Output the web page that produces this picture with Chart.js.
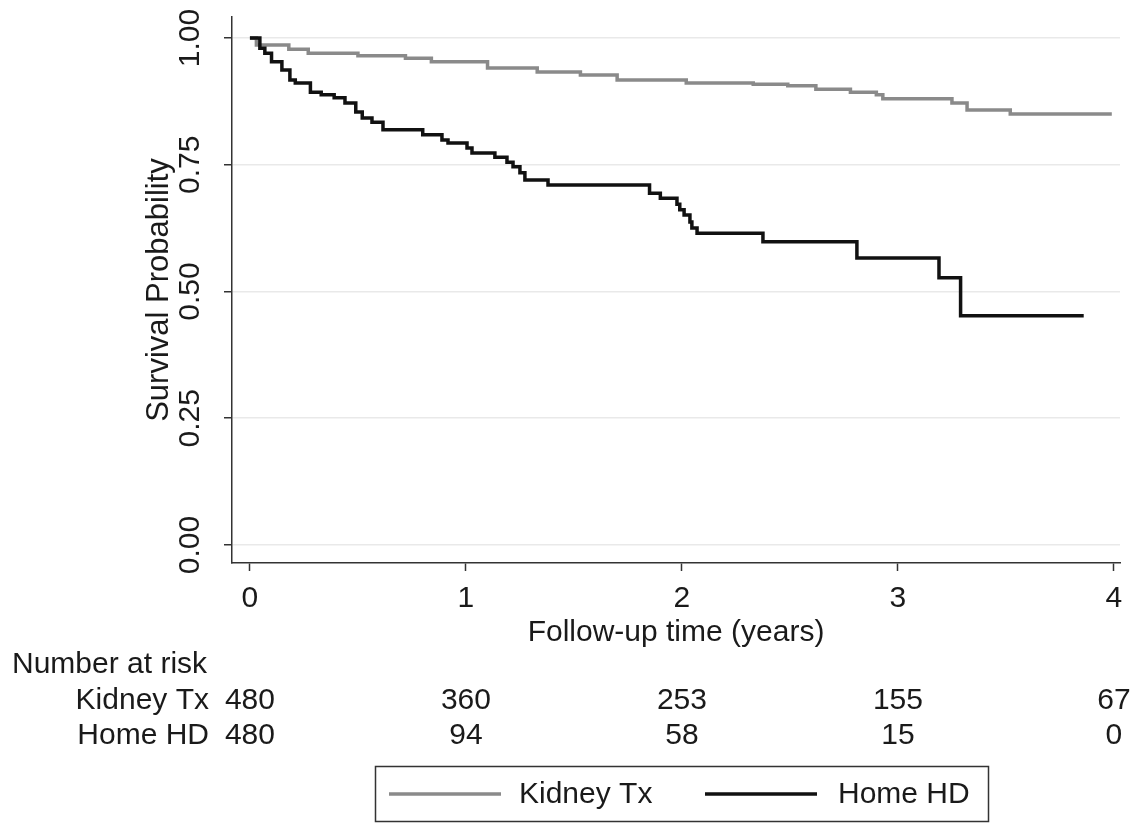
<!DOCTYPE html>
<html>
<head>
<meta charset="utf-8">
<script src="https://cdn.jsdelivr.net/npm/chart.js@4"></script>
<style>
  html, body { margin: 0; padding: 0; background: #fff; }
  #wrap { width: 1142px; height: 823px; }
</style>
</head>
<body>
<div id="wrap"><canvas id="km" width="1142" height="823"></canvas></div>
<script>
// Kaplan-Meier steps (time in years, survival)
const kidneyTime = [0, 0.03, 0.18, 0.27, 0.5, 0.72, 0.84, 1.10, 1.33, 1.53, 1.70, 2.02, 2.33, 2.49, 2.62, 2.78, 2.90, 2.93, 3.25, 3.32, 3.52, 3.99];
const kidneySurv = [1.0, 0.986, 0.978, 0.970, 0.965, 0.960, 0.953, 0.941, 0.933, 0.927, 0.917, 0.911, 0.909, 0.906, 0.899, 0.893, 0.888, 0.880, 0.872, 0.858, 0.850, 0.850];

const homeTime = [0, 0.046, 0.069, 0.10, 0.148, 0.185, 0.21, 0.28, 0.33, 0.39, 0.44, 0.49, 0.52, 0.565, 0.616, 0.80, 0.889, 0.917, 1.005, 1.028, 1.134, 1.19, 1.218, 1.25, 1.273, 1.38, 1.85, 1.90, 1.977, 1.99, 2.01, 2.037, 2.046, 2.07, 2.375, 2.81, 3.19, 3.29, 3.86];
const homeSurv = [1.0, 0.980, 0.970, 0.953, 0.937, 0.917, 0.911, 0.893, 0.888, 0.882, 0.872, 0.854, 0.842, 0.834, 0.819, 0.809, 0.799, 0.793, 0.783, 0.773, 0.765, 0.755, 0.746, 0.734, 0.720, 0.710, 0.694, 0.684, 0.672, 0.661, 0.651, 0.637, 0.625, 0.615, 0.598, 0.566, 0.527, 0.452, 0.452];

const seriesNames = ["Kidney Tx", "Home HD"];
const xTicks = [0, 1, 2, 3, 4];
const yTicks = [0, 0.25, 0.5, 0.75, 1];

// number at risk table
const riskTimes = [0, 1, 2, 3, 4];
const kidneyRisk = [480, 360, 253, 155, 67];
const homeRisk = [480, 94, 58, 15, 0];

const FONT = "'Liberation Sans', Arial, Helvetica, sans-serif";
const TXT = "#1a1a1a";
const GRAY = "#8a8a8a";
const BLACK = "#111111";

function pts(xs, ys) {
  return xs.map((x, i) => ({ x: x, y: ys[i] }));
}

const riskTable = {
  id: "riskTable",
  afterDraw(chart) {
    const ctx = chart.ctx;
    const xs = chart.scales.x;
    ctx.save();
    ctx.fillStyle = TXT;
    ctx.font = "30px " + FONT;
    ctx.textBaseline = "middle";

    ctx.textAlign = "left";
    ctx.fillText("Number at risk", 12, 665);

    ctx.textAlign = "right";
    ctx.fillText(seriesNames[0], 209, 701);
    ctx.fillText(seriesNames[1], 209, 736);

    ctx.textAlign = "center";
    riskTimes.forEach((t, i) => {
      const px = xs.getPixelForValue(t);
      ctx.fillText(String(kidneyRisk[i]), px, 701);
      ctx.fillText(String(homeRisk[i]), px, 736);
    });

    // legend box
    ctx.strokeStyle = "#333";
    ctx.lineWidth = 1.5;
    ctx.strokeRect(375.5, 766.5, 613, 55);

    ctx.lineWidth = 3.5;
    ctx.strokeStyle = GRAY;
    ctx.beginPath(); ctx.moveTo(389, 794); ctx.lineTo(501, 794); ctx.stroke();
    ctx.strokeStyle = BLACK;
    ctx.beginPath(); ctx.moveTo(705, 794); ctx.lineTo(817, 794); ctx.stroke();

    ctx.textAlign = "left";
    ctx.fillText(seriesNames[0], 519, 795);
    ctx.fillText(seriesNames[1], 838, 795);
    ctx.restore();
  }
};

new Chart(document.getElementById("km"), {
  type: "line",
  data: {
    datasets: [
      {
        label: seriesNames[0],
        data: pts(kidneyTime, kidneySurv),
        borderColor: GRAY,
        borderWidth: 3.5,
        pointRadius: 0,
        stepped: "before",
        fill: false,
        order: 2,
      },
      {
        label: seriesNames[1],
        data: pts(homeTime, homeSurv),
        borderColor: BLACK,
        borderWidth: 3.5,
        pointRadius: 0,
        stepped: "before",
        fill: false,
        order: 1,
      },
    ],
  },
  plugins: [riskTable],
  options: {
    responsive: false,
    animation: false,
    devicePixelRatio: 1,
    layout: { padding: { left: 0, right: 22, top: 17, bottom: 0 } },
    plugins: {
      legend: { display: false },
      tooltip: { enabled: false },
    },
    scales: {
      x: {
        type: "linear",
        min: -0.083,
        max: 4.028,
        afterBuildTicks: (s) => { s.ticks = xTicks.map((v) => ({ value: v })); },
        afterFit: (s) => { s.height = 260; s.paddingLeft = 0; s.paddingRight = 0; },
        grid: { display: true, drawOnChartArea: false, drawTicks: true, tickLength: 8, tickColor: "#333", tickWidth: 1.5 },
        border: { display: true, color: "#333", width: 1.5 },
        ticks: { color: TXT, font: { family: FONT, size: 30 }, padding: 10, maxRotation: 0, callback: (v) => String(v) },
        title: { display: true, text: "Follow-up time (years)", color: TXT, font: { family: FONT, size: 30 }, padding: { top: 0, bottom: 172 } },
      },
      y: {
        type: "linear",
        min: -0.0355,
        max: 1.0414,
        afterBuildTicks: (s) => { s.ticks = yTicks.map((v) => ({ value: v })); },
        afterFit: (s) => { s.width = 232; s.paddingTop = 0; s.paddingBottom = 0; },
        grid: { color: "#e9e9e9", lineWidth: 1.5, drawTicks: true, tickLength: 8, tickColor: "#333", tickWidth: 1.5 },
        border: { display: true, color: "#333", width: 1.5 },
        ticks: { color: TXT, font: { family: FONT, size: 30 }, padding: 4, minRotation: 90, maxRotation: 90, crossAlign: "center", callback: (v) => v.toFixed(2) },
        title: { display: true, text: "Survival Probability", color: TXT, font: { family: FONT, size: 31 }, padding: { top: 141, bottom: 0 } },
      },
    },
  },
});
</script>
</body>
</html>
